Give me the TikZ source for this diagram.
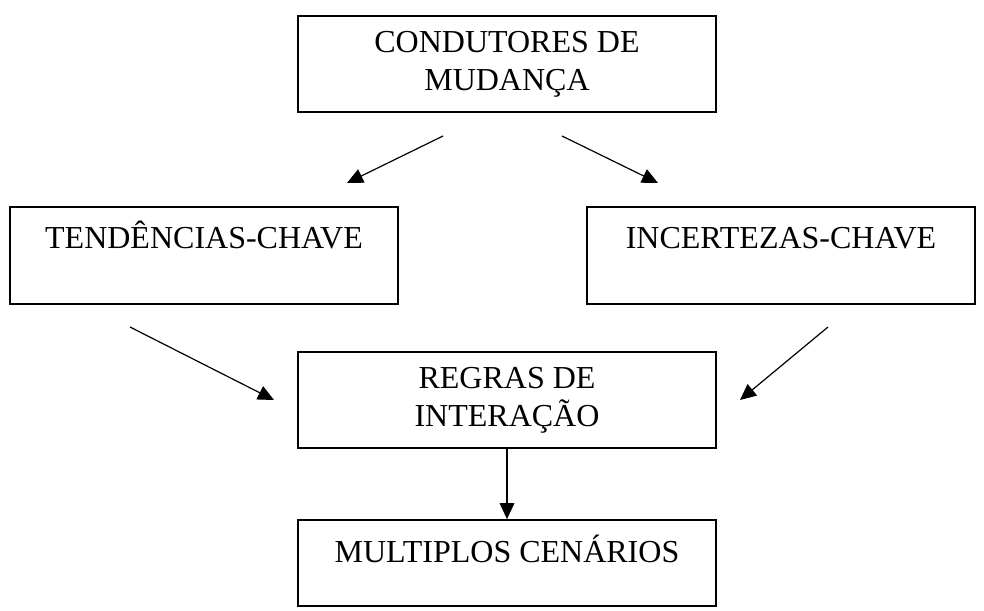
\documentclass[tikz,border=0pt]{standalone}
\usepackage{fontspec}
\setmainfont{Liberation Serif}
\usepackage{tikz}
\usetikzlibrary{arrows.meta, positioning}

\begin{document}
\begin{tikzpicture}[x=0.75pt, y=-0.75pt,
    caixa/.style={draw, line width=1.3pt, rectangle, align=center, inner sep=0pt,
        font=\fontsize{24}{28.5}\selectfont},
    caixalarga/.style={caixa, minimum width=313.5pt, minimum height=72pt},
    caixalado/.style={caixa, minimum width=291pt, text height=30.75pt, text depth=42pt},
    seta/.style={line width=0.9pt, -{Triangle[length=12pt, width=11pt]}}]
    \useasboundingbox (0,0) rectangle (984,610);
    % caixas
    \node[caixalarga] (condutores) at (507,64) {CONDUTORES DE\\MUDANÇA};
    \node[caixalado] (tendencias) at (204,255.5) {TENDÊNCIAS-CHAVE};
    \node[caixalado] (incertezas) at (781,255.5) {INCERTEZAS-CHAVE};
    \node[caixalarga] (regras) at (507,400) {REGRAS DE\\INTERAÇÃO};
    \node[caixa, minimum width=313.5pt, text height=31.5pt, text depth=33pt] (cenarios) at (507,563) {MULTIPLOS CENÁRIOS};
    % pontas soltas das setas
    \coordinate (c1) at (443,136);
    \coordinate (c2) at (347,183);
    \coordinate (c3) at (562,136);
    \coordinate (c4) at (658,183);
    \coordinate (c5) at (130,327);
    \coordinate (c6) at (274,400);
    \coordinate (c7) at (828,327);
    \coordinate (c8) at (740,400);
    % setas
    \draw[seta] (c1) -- (c2);
    \draw[seta] (c3) -- (c4);
    \draw[seta] (c5) -- (c6);
    \draw[seta] (c7) -- (c8);
    \draw[seta] (regras) -- (cenarios);
\end{tikzpicture}
\end{document}
